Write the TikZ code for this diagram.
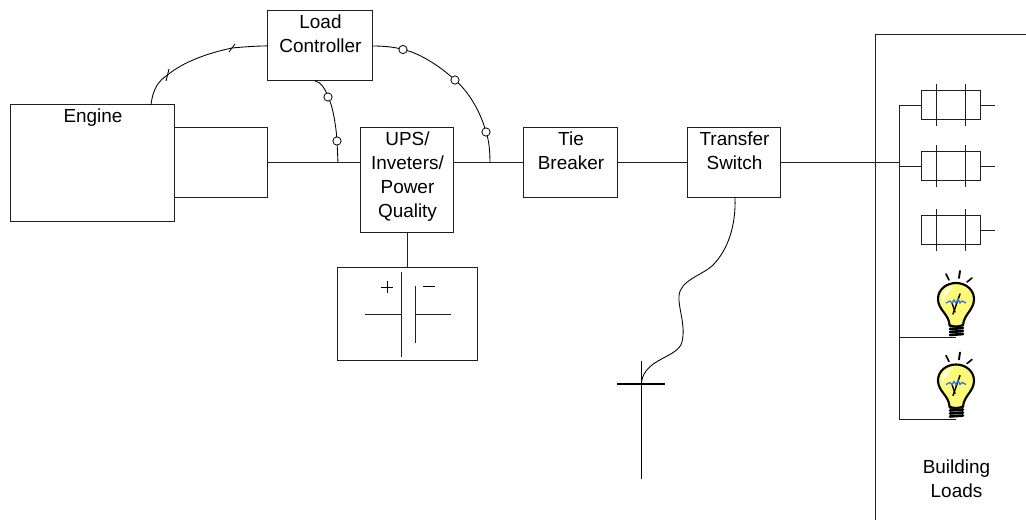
\documentclass[tikz,border=0pt]{standalone}
\usepackage{fontspec}
\setmainfont{Liberation Sans}
\usetikzlibrary{calc,shadings}
\definecolor{lineg}{gray}{0.12}
\definecolor{bulbY}{RGB}{255,249,120}
\definecolor{bulbL}{RGB}{255,255,215}
\definecolor{filB}{RGB}{50,110,240}
\tikzset{
  box/.style={draw=lineg,line width=0.75pt,minimum width=0pt,inner sep=0pt,outer sep=0pt,rectangle},
  lbl/.style={font=\fontsize{14.2pt}{18pt}\selectfont,align=center,inner sep=0pt,text=black},
  wire/.style={draw=lineg,line width=0.75pt},
  curve/.style={draw=black,line width=0.65pt},
  ring/.style={circle,draw=black,fill=white,line width=0.6pt,minimum size=6.2pt,inner sep=0pt,outer sep=0pt},
  pt/.style={inner sep=0pt,outer sep=0pt,minimum size=0pt},
  breaker/.pic={
    \draw[wire] (0,-14.5) rectangle (59,14.5);
    \draw[wire] (15,-21) -- (15,21);
    \draw[wire] (44,-21) -- (44,21);
    \draw[wire] (59,0) -- (74,0);
  },
  bulb/.pic={
    \draw[black,line width=1.2pt,line cap=round] (-10,-26) -- (-7,-20);
    \draw[black,line width=1.4pt,line cap=round] (4,-29) -- (3,-22);
    \draw[black,line width=1.2pt,line cap=round] (16,-22) -- (11,-18);
    \foreach \yy in {26,29,32,35}{
      \draw[black,line width=2pt,line cap=round] (-6,\yy) -- (7,\yy-1);
    }
    \draw[black,line width=1.6pt,fill=bulbY]
      (-6.5,25) .. controls (-7,14) and (-18,10) .. (-18,-1)
      .. controls (-18,-11) and (-9,-17) .. (0,-17)
      .. controls (10,-17) and (18,-10) .. (18,-1)
      .. controls (18,10) and (8,14) .. (7,25)
      .. controls (3,27) and (-3,27) .. (-6.5,25) -- cycle;
    \fill[bulbL] (-3,-14) .. controls (-12,-13) and (-15,-5) .. (-14,2)
      .. controls (-10,-4) and (-6,-9) .. (-3,-14) -- cycle;
    \draw[black,line width=1.1pt,line cap=round] (4,-6) -- (-3,14);
    \draw[black,line width=1pt,line cap=round] (-4,3) -- (-1,12);
    \draw[filB,line width=1pt] (-10,3) -- (-6,1) -- (-4,3) -- (-2,0) -- (0,3) -- (2,-1) -- (4,3) -- (6,1) -- (10,3);
  }
}
\begin{document}
\begin{tikzpicture}[x=0.75pt,y=-0.75pt]
\useasboundingbox (0,0) rectangle (1026,520);

% boxes
\node[box,minimum width=123pt,minimum height=87.75pt] (engine) at (92.9,163.4) {};
\node[box,minimum width=69.75pt,minimum height=52.5pt] (gen) at (221.4,162.9) {};
\node[box,minimum width=78.75pt,minimum height=52.5pt] (load) at (320.4,45.9) {};
\node[box,minimum width=69.75pt,minimum height=78.75pt] (ups) at (407.4,180.4) {};
\node[box,minimum width=70.5pt,minimum height=52.5pt] (tie) at (570.9,162.9) {};
\node[box,minimum width=69.75pt,minimum height=52.5pt] (xfer) at (734.4,162.9) {};
\node[box,minimum width=105pt,minimum height=69.75pt] (batt) at (407.9,314.4) {};

% labels
\node[lbl,anchor=center] (engineT) at (93,118) {Engine};
\node[lbl,anchor=north] (loadT) at (320.5,15) {Load\\Controller};
\node[lbl,anchor=north] (upsT) at (407.5,132) {UPS/\\Inveters/\\Power\\Quality};
\node[lbl,anchor=north] (tieT) at (571,132) {Tie\\Breaker};
\node[lbl,anchor=north] (xferT) at (734.5,132) {Transfer\\Switch};
\node[lbl,anchor=north] (bldT) at (956.5,460) {Building\\Loads};

% building enclosure
\coordinate (bA) at (875,520);
\coordinate (bB) at (875,35);
\coordinate (bC) at (1026,35);
\draw[wire] (bA) -- (bB) -- (bC);

% main bus
\draw[wire] (gen.east) -- (ups.west |- gen.east);
\draw[wire] (ups.east |- tie.west) -- (tie.west);
\draw[wire] (tie.east) -- (xfer.west);
\coordinate (busTop) at (899,105);
\coordinate (busBot) at (899,420);
\coordinate (busMid) at (899,338);
\draw[wire] (xfer.east) -- (busTop |- xfer.east);
\draw[wire] (busTop) -- (busBot);
\draw[wire] (ups.south -| batt.north) -- (batt.north);

% breakers
\coordinate (br1) at (921,105.5);
\coordinate (br2) at (921,166.5);
\coordinate (br3) at (921,230.5);
\pic at (br1) {breaker};
\pic at (br2) {breaker};
\pic at (br3) {breaker};
\draw[wire] (busTop |- br1) -- (br1);
\draw[wire] (busTop |- br2) -- (br2);

% bulbs
\coordinate (lamp1) at (956,300);
\coordinate (lamp2) at (956,381.5);
\pic at (lamp1) {bulb};
\pic at (lamp2) {bulb};
\draw[wire] (busMid) -- (lamp1 |- busMid);
\draw[wire] (busBot) -- (lamp2 |- busBot);

% control curves
\coordinate (e1) at (151,105);
\node[pt] (t1) at (167.5,75) {};
\node[pt] (t2) at (232,48) {};
\draw[curve] (e1) .. controls (153,87) and (160,80) .. (t1.center)
  .. controls (183,62) and (208,53) .. (t2.center)
  .. controls (243,47) and (255,46) .. (load.west);
\draw[curve] ($(t1)+(-1.5,6)$) -- ($(t1)+(1.5,-6)$);
\draw[curve] ($(t2)+(-3,4)$) -- ($(t2)+(3,-4)$);

\coordinate (lc1) at (373,46);
\coordinate (j1) at (490,163);
\node[ring] (r1) at (403,49.5) {};
\node[ring] (r2) at (455,80) {};
\node[ring] (r3) at (486,132) {};
\draw[curve] (lc1) .. controls (383,46) and (393,47) .. (r1);
\draw[curve] (r1) .. controls (420,54) and (438,65) .. (r2);
\draw[curve] (r2) .. controls (470,94) and (480,112) .. (r3);
\draw[curve] (r3) .. controls (489,142) and (490,152) .. (j1);

\coordinate (lc2) at (315,81);
\coordinate (j2) at (338,163);
\node[ring] (r4) at (328,97) {};
\node[ring] (r5) at (337,141) {};
\draw[curve] (lc2) .. controls (321,82) and (325,89) .. (r4);
\draw[curve] (r4) .. controls (333,108) and (336,127) .. (r5);
\draw[curve] (r5) -- (j2);

% ground
\coordinate (g1) at (641.5,361);
\coordinate (g2) at (641.5,479);
\coordinate (g3) at (617,384.5);
\coordinate (g4) at (665,384.5);
\coordinate (g5) at (641.5,382);
\draw[black,line width=1.15pt] (g1) -- (g2);
\draw[black,line width=1.5pt] (g3) -- (g4);
\draw[curve] (735,198) .. controls (736,225) and (728,250) .. (713,265)
  .. controls (703,275) and (680,280) .. (679,296)
  .. controls (678,308) and (686,325) .. (682,342)
  .. controls (678,358) and (645,358) .. (g5);

% battery
\coordinate (pa1) at (401,272);
\coordinate (pa2) at (401,357);
\coordinate (pb1) at (415,286);
\coordinate (pb2) at (415,343);
\coordinate (la) at (365,315);
\coordinate (lb) at (451,315);
\draw[wire] (pa1) -- (pa2);
\draw[wire] (pb1) -- (pb2);
\draw[wire] (la) -- (pa1 |- la);
\draw[wire] (pb1 |- lb) -- (lb);
\coordinate (pl) at (387,287);
\coordinate (mi) at (429,287);
\draw[black,line width=0.7pt] ($(pl)+(-6,0)$) -- ($(pl)+(6,0)$);
\draw[black,line width=0.7pt] ($(pl)+(0,-6)$) -- ($(pl)+(0,6)$);
\draw[black,line width=0.7pt] ($(mi)+(-6,-1)$) -- ($(mi)+(6,-1)$);
\end{tikzpicture}
\end{document}
